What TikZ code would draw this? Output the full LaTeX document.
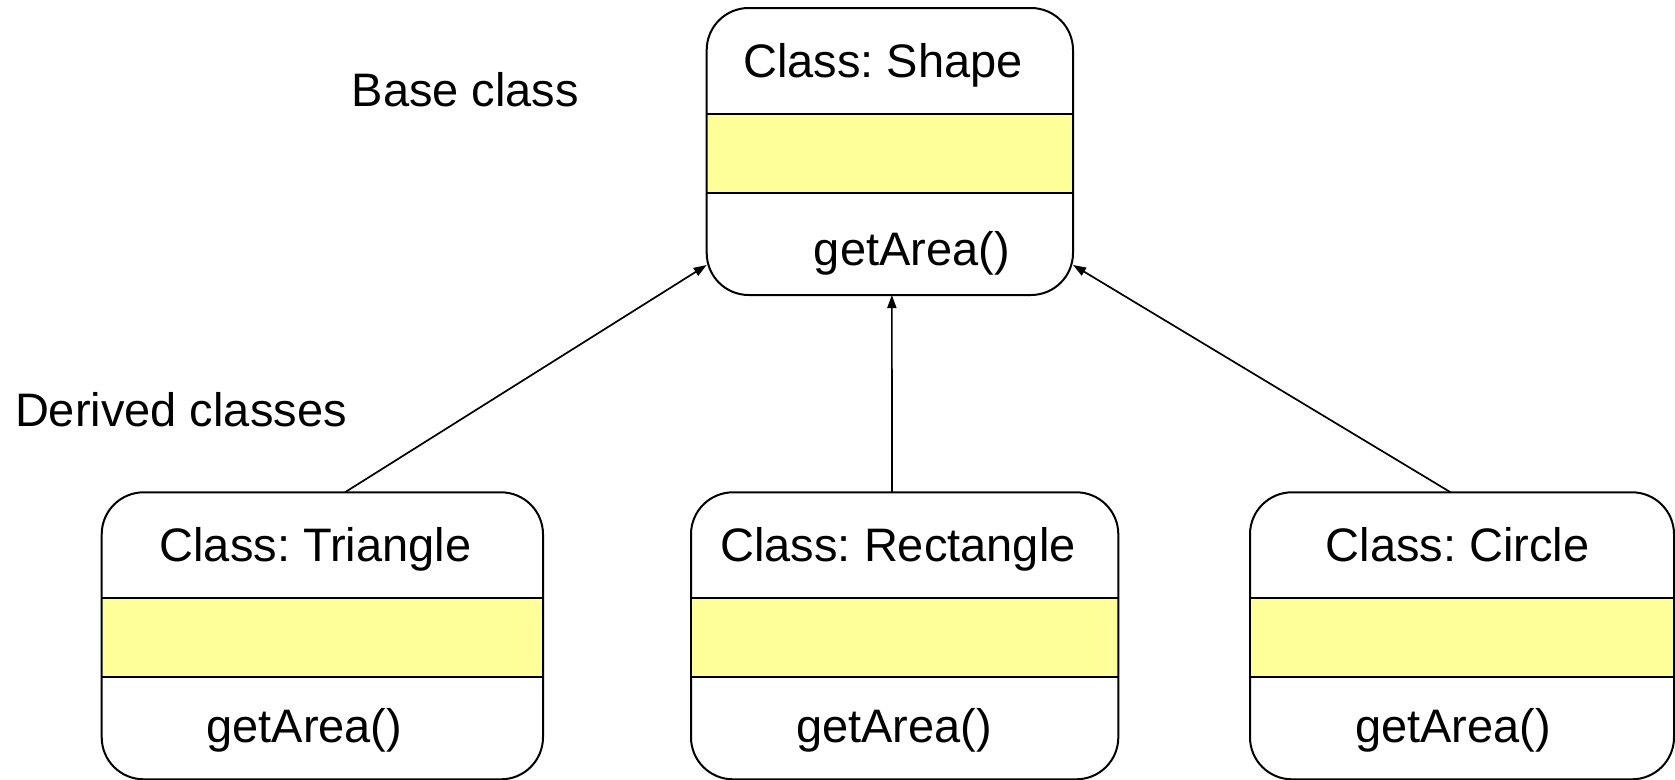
\documentclass[tikz,border=0pt]{standalone}
\usepackage{fontspec}
\setmainfont{Liberation Sans}
\frenchspacing
\usetikzlibrary{arrows.meta,calc}
\definecolor{bandyellow}{RGB}{255,255,153}
\tikzset{
  classbox/.style={draw=black, line width=2pt, rounded corners=42pt, inner sep=0pt, outer sep=0pt, minimum height=287pt},
  lbl/.style={anchor=base, inner sep=0pt, outer sep=0pt, font=\fontsize{47}{56}\selectfont},
  arr/.style={line width=1.7pt, -{Triangle[length=13pt,width=9pt]}},
  band/.style={fill=bandyellow},
  sepline/.style={line width=2pt}
}
% name, cx, cy, width, title, titledx, methoddx, methodbaseline
\newcommand\umlclass[8]{%
  \node[classbox, minimum width=#4pt] (#1) at (#2,#3) {};
  \fill[band] ([xshift=1pt,yshift=-106pt]#1.north west) rectangle ([xshift=-1pt,yshift=-185pt]#1.north east);
  \draw[sepline] ([yshift=-106pt]#1.north west) -- ([yshift=-106pt]#1.north east);
  \draw[sepline] ([yshift=-185pt]#1.north west) -- ([yshift=-185pt]#1.north east);
  \node[lbl] (#1-title) at ([xshift=#6pt,yshift=-69pt]#1.north) {Class: #5};
  \node[lbl] (#1-method) at ([xshift=#7pt,yshift=-#8pt]#1.north) {getArea()};
}
\begin{document}
\begin{tikzpicture}[x=1pt,y=-1pt]
  \useasboundingbox (0,0) rectangle (1675,779);
  \umlclass{shape}{889.85}{151.5}{366.3}{Shape}{-7}{22}{257}
  \umlclass{tri}{322.35}{635.8}{441.3}{Triangle}{-7}{-18}{250}
  \umlclass{rect}{904.65}{635.8}{427.3}{Rectangle}{-6.6}{-10.6}{250}
  \umlclass{circ}{1462}{635.8}{424}{Circle}{-4.5}{-9}{250}
  \node[lbl, anchor=base west] (baselbl) at (351.7,106.7) {Base class};
  \node[lbl, anchor=base west] (derivedlbl) at (15,426.7) {Derived classes};
  \draw[arr] ([xshift=22.6pt]tri.north) -- ([yshift=30pt]shape.south west);
  \draw[arr] ([xshift=-12.7pt]rect.north) -- ([xshift=2pt]shape.south);
  \draw[arr] ([xshift=-11.4pt]circ.north) -- ([yshift=30pt]shape.south east);
\end{tikzpicture}
\end{document}
